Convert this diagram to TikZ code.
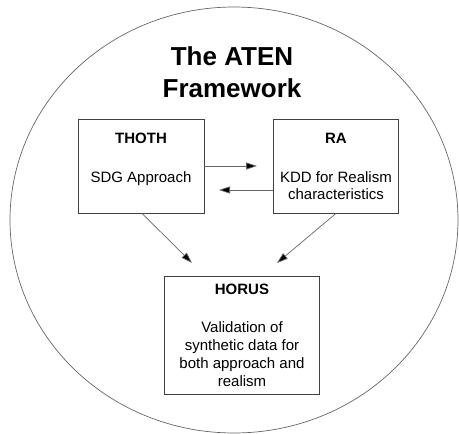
\documentclass[tikz,border=0pt]{standalone}
\usepackage{fontspec}
\setmainfont{Liberation Sans}
\usetikzlibrary{arrows.meta}
\begin{document}
\begin{tikzpicture}[x=1pt,y=-1pt,
  boxnode/.style={draw=black!75,line width=0.8pt,inner sep=0pt,fill=white},
  titletext/.style={font=\fontsize{26}{32}\selectfont\bfseries,anchor=base,inner sep=0pt},
  headtext/.style={font=\fontsize{15}{18}\selectfont\bfseries,anchor=base,inner sep=0pt},
  bodytext/.style={font=\fontsize{15}{17.5}\selectfont,anchor=base,inner sep=0pt,align=center},
  link/.style={draw=black!60,line width=0.7pt,-{Triangle[length=11pt,width=7pt,fill=black]}}]
\useasboundingbox (0,0) rectangle (459,434);
\draw[black!60,line width=0.7pt] (234,220) ellipse [x radius=224,y radius=213];
\node[titletext] (t1) at (232,65) {The ATEN};
\node[titletext] (t2) at (232,97) {Framework};
\node[boxnode,minimum width=126pt,minimum height=94pt] (thoth) at (141,166) {};
\node[boxnode,minimum width=125pt,minimum height=94pt] (ra) at (335.5,166) {};
\node[boxnode,minimum width=155pt,minimum height=118pt] (horus) at (241.5,335) {};
\node[headtext] (thothh) at (141,143) {THOTH};
\node[bodytext] (thothb) at (141,182) {SDG Approach};
\node[headtext] (rah) at (336,143) {RA};
\node[bodytext,font=\fontsize{15}{17}\selectfont] (rab) at (336,199) {KDD for Realism\\characteristics};
\node[headtext] (horush) at (242,294) {HORUS};
\node[bodytext,font=\fontsize{15}{17.7}\selectfont] (horusb) at (242,386) {Validation of\\synthetic data for\\both approach and\\realism};
\coordinate (a1) at (257,166);
\coordinate (a2) at (219,190);
\coordinate (a3) at (192,263);
\coordinate (a4) at (277,263);
\draw[link] (thoth.east |- a1) -- (a1);
\draw[link] (ra.west |- a2) -- (a2);
\draw[link] (thoth.south -| 142,0) -- (a3);
\draw[link] (ra.south -| 336,0) -- (a4);
\end{tikzpicture}
\end{document}
